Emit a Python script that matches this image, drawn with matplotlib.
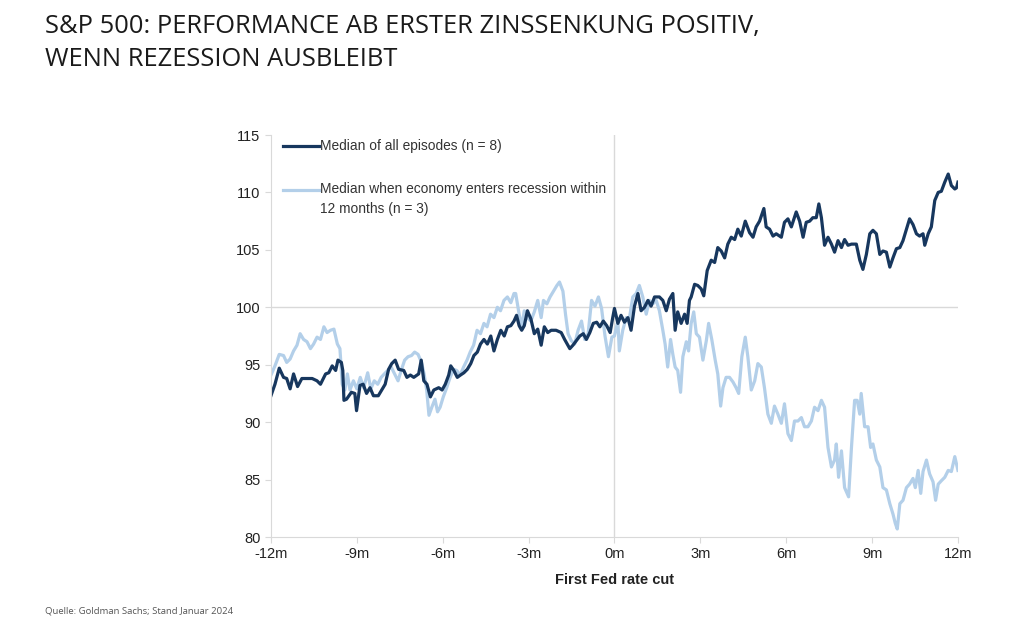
import matplotlib.pyplot as plt

# S&P 500 path around the first Fed rate cut (index, cut = 100)
all_months = [-12.00, -11.86, -11.71, -11.56, -11.45, -11.33, -11.21, -11.07, -10.92, -10.74,
              -10.56, -10.39, -10.27, -10.09, -9.98, -9.86, -9.74, -9.66, -9.54, -9.49,
              -9.45, -9.36, -9.19, -9.07, -9.01, -8.89, -8.78, -8.66, -8.54, -8.42,
              -8.25, -8.13, -8.01, -7.89, -7.78, -7.66, -7.54, -7.36, -7.25, -7.13,
              -7.01, -6.84, -6.75, -6.66, -6.55, -6.43, -6.31, -6.14, -6.02, -5.91,
              -5.79, -5.72, -5.61, -5.49, -5.38, -5.26, -5.14, -5.02, -4.91, -4.79,
              -4.68, -4.56, -4.44, -4.32, -4.21, -4.09, -3.97, -3.85, -3.74, -3.62,
              -3.51, -3.42, -3.33, -3.24, -3.15, -3.04, -2.92, -2.80, -2.68, -2.56,
              -2.45, -2.33, -2.21, -2.04, -1.86, -1.74, -1.56, -1.45, -1.33, -1.21,
              -1.09, -0.98, -0.86, -0.74, -0.62, -0.51, -0.39, -0.27, -0.15, -0.06,
              0.00, 0.12, 0.23, 0.35, 0.47, 0.58, 0.70, 0.82, 0.93, 1.05,
              1.17, 1.28, 1.40, 1.57, 1.69, 1.81, 1.92, 2.04, 2.12, 2.21,
              2.33, 2.45, 2.54, 2.62, 2.68, 2.80, 2.91, 3.03, 3.12, 3.24,
              3.38, 3.50, 3.61, 3.73, 3.85, 3.96, 4.08, 4.20, 4.31, 4.43,
              4.57, 4.72, 4.84, 4.95, 5.07, 5.22, 5.30, 5.42, 5.54, 5.65,
              5.83, 5.94, 6.06, 6.18, 6.35, 6.47, 6.59, 6.70, 6.82, 6.93,
              7.05, 7.14, 7.23, 7.34, 7.46, 7.58, 7.69, 7.81, 7.93, 8.04,
              8.16, 8.28, 8.45, 8.57, 8.68, 8.80, 8.92, 9.03, 9.15, 9.27,
              9.38, 9.50, 9.62, 9.73, 9.85, 9.97, 10.08, 10.20, 10.31, 10.43,
              10.55, 10.66, 10.78, 10.84, 10.96, 11.07, 11.19, 11.31, 11.42, 11.54,
              11.66, 11.77, 11.89, 11.95, 12.00]
all_values = [92.3, 93.3, 94.7, 93.9, 93.8, 92.9, 94.2, 93.1, 93.8, 93.8,
              93.8, 93.6, 93.3, 94.2, 94.3, 94.9, 94.5, 95.4, 95.2, 94.5,
              91.9, 92.0, 92.6, 92.5, 91.0, 93.2, 93.3, 92.5, 93.0, 92.3,
              92.3, 92.8, 93.3, 94.6, 95.1, 95.4, 94.6, 94.5, 93.9, 94.1,
              93.9, 94.2, 95.4, 93.6, 93.3, 92.2, 92.8, 93.0, 92.8, 93.3,
              94.1, 94.9, 94.5, 93.9, 94.1, 94.3, 94.6, 95.1, 95.8, 96.1,
              96.8, 97.2, 96.8, 97.5, 96.2, 97.2, 98.0, 97.5, 98.3, 98.4,
              98.8, 99.3, 98.4, 98.0, 98.4, 99.7, 99.0, 97.7, 98.1, 96.7,
              98.3, 97.8, 98.0, 98.0, 97.8, 97.2, 96.4, 96.7, 97.1, 97.5,
              97.7, 97.2, 97.8, 98.6, 98.7, 98.3, 98.8, 98.4, 97.8, 99.1,
              99.9, 98.6, 99.3, 98.7, 99.1, 98.0, 100.1, 101.2, 99.7, 100.0,
              100.6, 100.1, 100.9, 100.9, 100.6, 99.7, 100.7, 101.2, 98.0, 99.6,
              98.6, 99.4, 98.6, 100.6, 100.9, 102.0, 101.9, 101.6, 101.0, 103.2,
              104.1, 103.9, 105.2, 104.9, 104.3, 105.5, 106.1, 105.9, 106.8, 106.2,
              107.5, 106.5, 106.1, 107.0, 107.5, 108.6, 107.0, 106.8, 106.2, 106.4,
              106.1, 107.4, 107.7, 107.0, 108.3, 107.5, 106.1, 107.4, 107.5, 107.8,
              107.8, 109.0, 107.8, 105.4, 106.1, 105.5, 104.8, 105.8, 105.2, 105.9,
              105.4, 105.5, 105.5, 104.1, 103.3, 104.6, 106.4, 106.7, 106.4, 104.6,
              104.9, 104.8, 103.5, 104.3, 105.1, 105.2, 105.8, 106.8, 107.7, 107.2,
              106.4, 106.2, 106.4, 105.4, 106.4, 107.0, 109.3, 110.0, 110.1, 110.9,
              111.6, 110.6, 110.3, 110.4, 110.9]

rec_months = [-12.00, -11.86, -11.71, -11.56, -11.45, -11.33, -11.21, -11.09, -10.98, -10.86,
              -10.74, -10.62, -10.51, -10.39, -10.27, -10.15, -10.04, -9.92, -9.80, -9.68,
              -9.59, -9.51, -9.42, -9.33, -9.24, -9.12, -9.00, -8.88, -8.76, -8.62,
              -8.51, -8.39, -8.27, -8.15, -8.04, -7.92, -7.80, -7.68, -7.56, -7.45,
              -7.33, -7.21, -7.09, -6.98, -6.86, -6.74, -6.65, -6.56, -6.48, -6.38,
              -6.27, -6.18, -6.09, -5.98, -5.86, -5.74, -5.62, -5.51, -5.39, -5.27,
              -5.15, -5.04, -4.92, -4.80, -4.68, -4.56, -4.45, -4.33, -4.21, -4.09,
              -3.98, -3.86, -3.74, -3.62, -3.51, -3.45, -3.33, -3.24, -3.15, -3.04,
              -2.92, -2.80, -2.68, -2.56, -2.48, -2.36, -2.25, -2.13, -2.01, -1.92,
              -1.80, -1.71, -1.62, -1.51, -1.39, -1.27, -1.15, -1.04, -0.92, -0.80,
              -0.68, -0.56, -0.45, -0.33, -0.21, -0.09, 0.00, 0.12, 0.17, 0.29,
              0.41, 0.52, 0.64, 0.76, 0.87, 0.99, 1.11, 1.22, 1.34, 1.46,
              1.57, 1.69, 1.77, 1.86, 1.96, 2.04, 2.12, 2.21, 2.31, 2.39,
              2.51, 2.59, 2.68, 2.77, 2.86, 2.97, 3.09, 3.21, 3.29, 3.40,
              3.52, 3.61, 3.71, 3.79, 3.90, 4.02, 4.14, 4.25, 4.34, 4.45,
              4.57, 4.66, 4.78, 4.90, 5.01, 5.13, 5.24, 5.36, 5.48, 5.59,
              5.71, 5.83, 5.94, 6.06, 6.18, 6.29, 6.41, 6.53, 6.64, 6.76,
              6.88, 6.99, 7.11, 7.23, 7.34, 7.46, 7.58, 7.69, 7.75, 7.83,
              7.93, 8.04, 8.18, 8.28, 8.39, 8.48, 8.57, 8.62, 8.74, 8.86,
              8.95, 9.03, 9.15, 9.27, 9.38, 9.50, 9.62, 9.73, 9.81, 9.88,
              9.97, 10.08, 10.20, 10.31, 10.43, 10.51, 10.61, 10.70, 10.78, 10.90,
              11.01, 11.13, 11.22, 11.31, 11.42, 11.54, 11.66, 11.77, 11.89, 12.00]
rec_values = [94.1, 94.9, 95.9, 95.8, 95.2, 95.5, 96.2, 96.7, 97.7, 97.2,
              97.0, 96.4, 96.8, 97.4, 97.2, 98.3, 97.8, 98.0, 98.1, 96.8,
              96.4, 93.3, 92.8, 94.2, 92.8, 93.6, 92.9, 93.9, 93.0, 94.3,
              92.9, 93.6, 93.3, 93.9, 94.2, 94.5, 94.8, 94.2, 93.6, 94.5,
              95.4, 95.7, 95.8, 96.1, 95.9, 95.2, 94.2, 92.8, 90.6, 91.3,
              92.0, 90.9, 91.3, 92.2, 93.0, 93.9, 94.6, 94.5, 94.1, 94.8,
              95.4, 96.1, 96.7, 98.0, 97.7, 98.6, 98.3, 99.4, 99.1, 100.0,
              99.7, 100.6, 100.9, 100.4, 101.2, 101.2, 99.4, 98.3, 99.7, 99.1,
              98.8, 99.6, 100.6, 99.1, 100.6, 100.3, 100.9, 101.4, 101.9, 102.2,
              101.4, 99.4, 97.7, 97.1, 96.8, 98.0, 98.8, 97.2, 97.7, 100.6,
              100.1, 100.9, 99.9, 97.5, 95.7, 97.4, 97.5, 98.8, 96.2, 98.0,
              99.1, 99.0, 100.9, 101.2, 101.9, 100.9, 99.4, 100.6, 100.3, 100.6,
              99.7, 98.0, 96.8, 94.8, 97.2, 95.9, 94.8, 94.5, 92.6, 95.7,
              97.0, 96.2, 98.6, 99.6, 97.7, 97.4, 95.4, 97.1, 98.6, 97.2,
              95.4, 94.2, 91.4, 93.0, 93.9, 93.9, 93.5, 93.0, 92.5, 95.7,
              97.4, 95.7, 92.8, 93.6, 95.1, 94.8, 93.0, 90.7, 89.9, 91.4,
              90.7, 89.9, 91.6, 89.0, 88.4, 90.1, 90.1, 90.4, 89.6, 89.6,
              90.1, 91.3, 91.0, 91.9, 91.3, 87.8, 86.1, 86.7, 88.1, 85.2,
              87.5, 84.3, 83.5, 87.8, 91.9, 91.9, 90.7, 92.5, 89.6, 89.6,
              87.8, 88.1, 86.7, 86.1, 84.3, 84.1, 82.9, 82.0, 81.2, 80.7,
              82.9, 83.2, 84.3, 84.6, 85.1, 84.3, 85.8, 83.8, 85.7, 86.7,
              85.5, 84.8, 83.2, 84.6, 84.9, 85.2, 85.8, 85.7, 87.0, 85.8]

tick_pos = [-12, -9, -6, -3, 0, 3, 6, 9, 12]
tick_labels = ['-12m', '-9m', '-6m', '-3m', '0m', '3m', '6m', '9m', '12m']

dark = '#17375e'
light = '#b3cfe9'
grid = '#d9d9d9'

fig = plt.figure(figsize=(10.24, 6.35), dpi=100)
ax = fig.add_axes([0.2646, 0.1543, 0.6709, 0.6331])

ax.axhline(100, color=grid, lw=1, zorder=0)
ax.axvline(0, color=grid, lw=1, zorder=0)
ax.plot(rec_months, rec_values, color=light, lw=2.3,
        label='Median when economy enters recession within\n12 months (n = 3)')
ax.plot(all_months, all_values, color=dark, lw=2.3, label='Median of all episodes (n = 8)')

ax.set_xlim(-12, 12)
ax.set_ylim(80, 115)
ax.set_yticks([80, 85, 90, 95, 100, 105, 110, 115])
ax.set_xticks(tick_pos)
ax.set_xticklabels(tick_labels)
for s in ['top', 'right']:
    ax.spines[s].set_visible(False)
for s in ['left', 'bottom']:
    ax.spines[s].set_color(grid)
ax.tick_params(colors=grid, labelcolor='#222222', labelsize=10.5, length=4)
for lab in ax.get_xticklabels() + ax.get_yticklabels():
    lab.set_family('Liberation Sans')
ax.set_xlabel('First Fed rate cut', fontsize=10.5, fontweight='bold',
              family='Liberation Sans', color='#222222', labelpad=8)

handles, labels = ax.get_legend_handles_labels()
leg = ax.legend(handles[::-1], labels[::-1], loc='upper left', bbox_to_anchor=(0.0, 1.02),
                frameon=False, handlelength=2.6, handletextpad=0.05, labelspacing=2.1,
                prop={'family': 'Liberation Sans', 'size': 9.9})
for t in leg.get_texts():
    t.set_color('#333333')
    t.set_linespacing(1.55)
# keep the second handle level with the first line of its label
h2 = leg.legend_handles[1]
h2.set_ydata([y + 7 for y in h2.get_ydata()])

fig.text(0.044, 0.978, 'S&P 500: PERFORMANCE AB ERSTER ZINSSENKUNG POSITIV,\nWENN REZESSION AUSBLEIBT',
         fontsize=18.4, family='Open Sans', color='#1a1a1a', va='top', ha='left', linespacing=1.4)
fig.text(0.044, 0.038, 'Quelle: Goldman Sachs; Stand Januar 2024', fontsize=6.8,
         family='Open Sans', color='#555555', ha='left', va='center')

fig.savefig('out.png', dpi=100)
